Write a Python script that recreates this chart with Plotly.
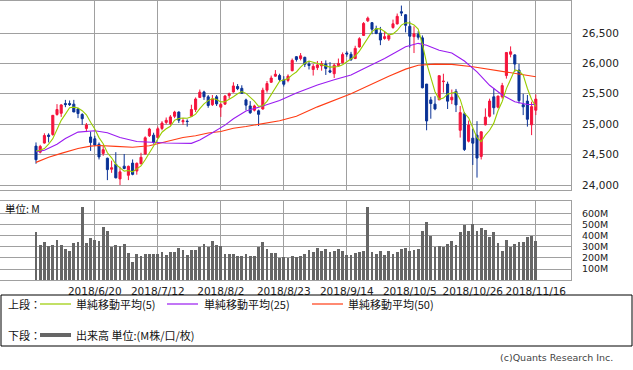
import plotly.graph_objects as go
import pandas as pd

# ---------------- data ----------------
tick_days = [14, 29, 44, 59, 74, 89, 104, 119]
tick_labels = ["2018/6/20", "2018/7/12", "2018/8/2", "2018/8/23",
               "2018/9/14", "2018/10/5", "2018/10/26", "2018/11/16"]

opens = [24640, 24540, 24690, 24820, 24830, 25160, 25180, 25340, 25340, 25330,
         25250, 25160, 24930, 24790, 24760, 24670, 24520, 24440, 24260, 24340,
         24100, 24310, 24160, 24360, 24230, 24350, 24510, 24810, 24820, 24780,
         24930, 25030, 25010, 25130, 25200, 25040, 25050, 25130, 25240, 25440,
         25530, 25450, 25320, 25450, 25280, 25330, 25470, 25530, 25620, 25590,
         25400, 25300, 25230, 25220, 25250, 25560, 25690, 25790, 25800, 25730,
         25720, 25880, 26110, 26080, 26100, 25990, 25900, 25930, 25960, 25990,
         25880, 25830, 25960, 26010, 26170, 26150, 26080, 26270, 26460, 26700,
         26670, 26570, 26500, 26410, 26400, 26590, 26650, 26850, 26800, 26610,
         26440, 26480, 26420, 25660, 25400, 25330, 25400, 25700, 25660, 25400,
         25540, 24900, 25170, 24720, 24770, 24820, 24470, 24990, 25130, 25450,
         25280, 25450, 25800, 26150, 26140, 25890, 25320, 25380, 24990, 25230]
highs = [24700, 24660, 24850, 24850, 25150, 25330, 25330, 25400, 25390, 25400,
         25270, 25180, 25020, 24880, 24810, 24700, 24650, 24450, 24400, 24540,
         24300, 24510, 24320, 24420, 24370, 24530, 24800, 24940, 24860, 24960,
         25050, 25110, 25150, 25220, 25210, 25100, 25080, 25320, 25440, 25570,
         25550, 25480, 25480, 25480, 25350, 25480, 25520, 25690, 25660, 25640,
         25420, 25380, 25320, 25240, 25600, 25710, 25800, 25890, 25830, 25790,
         25820, 26080, 26120, 26170, 26110, 26040, 25990, 26040, 26040, 26050,
         26020, 26000, 26080, 26180, 26200, 26190, 26290, 26430, 26680, 26770,
         26680, 26620, 26600, 26530, 26470, 26720, 26820, 26951, 26810, 26690,
         26610, 26530, 26460, 25660, 25450, 25460, 25800, 25830, 25700, 25570,
         25580, 25300, 25200, 25060, 24920, 25050, 24880, 25260, 25420, 25590,
         25470, 25680, 26180, 26280, 26150, 25990, 25500, 25480, 25370, 25490]
lows = [24350, 24520, 24680, 24700, 24810, 25140, 25120, 25280, 25300, 25200,
        25100, 24990, 24870, 24560, 24640, 24420, 24480, 24080, 24200, 24110,
        24000, 24260, 24080, 24160, 24170, 24340, 24500, 24790, 24680, 24770,
        24900, 25000, 24980, 25100, 25020, 24990, 24960, 25120, 25200, 25430,
        25400, 25270, 25300, 25300, 25120, 25320, 25420, 25520, 25560, 25500,
        25230, 25170, 25210, 24970, 25240, 25520, 25680, 25780, 25710, 25620,
        25690, 25870, 26030, 26050, 25940, 25900, 25800, 25890, 25880, 25810,
        25840, 25760, 25950, 26000, 26110, 26040, 26070, 26260, 26450, 26680,
        26480, 26480, 26300, 26390, 26370, 26570, 26640, 26780, 26510, 26260,
        26170, 26390, 25590, 24900, 25090, 25230, 25400, 25520, 25250, 25330,
        25200, 24780, 24560, 24700, 24330, 24122, 24420, 24980, 25110, 25160,
        25260, 25420, 25750, 26100, 25860, 25340, 25150, 24960, 24820, 25150]
closes = [24416, 24635, 24814, 24800, 25146, 25241, 25317, 25322, 25321, 25201,
          25175, 25090, 24987, 24700, 24658, 24462, 24581, 24253, 24283, 24118,
          24216, 24271, 24307, 24175, 24357, 24456, 24777, 24920, 24700, 24925,
          25019, 25064, 25120, 25199, 25065, 25058, 25044, 25242, 25414, 25527,
          25451, 25307, 25415, 25334, 25326, 25463, 25502, 25629, 25584, 25509,
          25313, 25188, 25300, 25162, 25559, 25669, 25759, 25822, 25734, 25657,
          25790, 26050, 26064, 26125, 25987, 25965, 25952, 25975, 25996, 25917,
          25857, 25971, 25999, 26146, 26155, 26062, 26247, 26406, 26657, 26744,
          26562, 26492, 26385, 26440, 26458, 26651, 26774, 26828, 26627, 26447,
          26487, 26431, 25599, 25053, 25340, 25251, 25798, 25707, 25379, 25444,
          25317, 25191, 24583, 24985, 24688, 24443, 24875, 25116, 25381, 25271,
          25462, 25635, 26180, 26191, 25989, 25387, 25286, 25081, 25289, 25413]
volumes_m = [436, 318, 345, 309, 318, 364, 318, 282, 264, 336,
             345, 664, 336, 382, 364, 355, 482, 445, 300, 318,
             309, 327, 245, 164, 236, 218, 236, 236, 236, 236,
             255, 227, 255, 255, 291, 273, 227, 273, 273, 300,
             327, 300, 355, 318, 309, 236, 236, 236, 218, 218,
             236, 218, 218, 300, 345, 282, 245, 245, 200, 209,
             200, 218, 209, 218, 236, 273, 255, 291, 264, 282,
             255, 264, 282, 264, 227, 227, 245, 255, 264, 664,
             255, 236, 264, 227, 264, 236, 255, 282, 291, 264,
             273, 282, 445, 527, 400, 300, 309, 300, 327, 355,
             318, 436, 500, 445, 509, 445, 473, 455, 391, 436,
             336, 264, 364, 300, 327, 345, 345, 391, 400, 355]

ma5_head = [24560, 24570, 24600, 24670]   # first values of the 5-day average as drawn
ma25_days = [0, 2, 5, 7, 10, 14, 17, 20, 24, 28, 31, 37, 39, 42, 44, 45, 47, 50, 54,
             58, 62, 67, 71, 75, 78, 83, 88, 91, 93, 96, 99, 102, 105, 108, 111,
             114, 117, 119]
ma25_vals = [24547, 24570, 24670, 24765, 24870, 24893, 24860, 24780, 24715, 24700,
             24690, 24685, 24740, 24860, 24935, 24985, 25090, 25217, 25300, 25390,
             25515, 25645, 25730, 25810, 25910, 26080, 26275, 26330, 26300, 26215,
             26170, 26040, 25860, 25640, 25480, 25370, 25325, 25323]
ma50_days = [0, 3, 6, 10, 13, 15, 19, 23, 27, 31, 35, 38, 41, 44, 47, 50, 54, 58, 62,
             67, 75, 79, 84, 88, 91, 95, 99, 104, 109, 113, 117, 119]
ma50_vals = [24372, 24455, 24520, 24600, 24640, 24650, 24635, 24620, 24645, 24715,
             24780, 24811, 24855, 24880, 24932, 24962, 25010, 25058, 25130, 25285,
             25500, 25630, 25790, 25906, 25970, 25988, 25984, 25946, 25891, 25847,
             25815, 25781]

# ---------------- derived ----------------
days = list(range(len(closes)))
ma5 = pd.Series(closes).rolling(5).mean().tolist()
ma5[:4] = ma5_head

RED = "#f5143c"
BLUE = "#0a3296"
C_MA5 = "#99cc00"
C_MA25 = "#9a1cf0"
C_MA50 = "#ff3c14"
GRID = "#a0a0a0"

W, H = 633, 370
PL, PR, PT, PB = 0, 571, 1, 280
PW, PH = PR - PL, PB - PT


def xp(px):
    return (px - PL) / PW


def yp(py):
    return (PB - py) / PH


fig = go.Figure()
fig.add_trace(go.Candlestick(
    x=days, open=opens, high=highs, low=lows, close=closes,
    increasing=dict(line=dict(color=RED, width=1), fillcolor=RED),
    decreasing=dict(line=dict(color=BLUE, width=1), fillcolor=BLUE),
    whiskerwidth=0, xaxis="x", yaxis="y", showlegend=False))
fig.add_trace(go.Scatter(x=ma50_days, y=ma50_vals, mode="lines",
                         line=dict(color=C_MA50, width=1.1), xaxis="x", yaxis="y"))
fig.add_trace(go.Scatter(x=ma25_days, y=ma25_vals, mode="lines",
                         line=dict(color=C_MA25, width=1.1), xaxis="x", yaxis="y"))
fig.add_trace(go.Scatter(x=days, y=ma5, mode="lines",
                         line=dict(color=C_MA5, width=1.1), xaxis="x", yaxis="y"))
fig.add_trace(go.Bar(x=days, y=volumes_m, marker=dict(color="#666666", line=dict(width=0)),
                     width=0.65, xaxis="x2", yaxis="y2"))

xr = [-36 / 4.2, (571 - 36) / 4.2]
axis_common = dict(showline=True, mirror=True, linecolor=GRID, linewidth=1,
                   showgrid=True, gridcolor=GRID, gridwidth=1, zeroline=False, ticks="",
                   automargin=False)
p_top = 26500 + (33 - PT) * 500 / 30.4
p_bot = 26500 + (33 - 190) * 500 / 30.4

fig.update_layout(
    width=W, height=H, margin=dict(l=PL, r=W - PR, t=PT, b=H - PB, autoexpand=False),
    paper_bgcolor="white", plot_bgcolor="white", showlegend=False,
    bargap=0,
    xaxis=dict(axis_common, range=xr, tickvals=tick_days, showticklabels=False,
               rangeslider=dict(visible=False), anchor="y"),
    xaxis2=dict(axis_common, range=xr, tickvals=tick_days, ticktext=tick_labels,
                matches="x", anchor="y2", tickangle=0, ticklabelstandoff=1,
                tickfont=dict(family="DejaVu Sans", size=10.5, color="#222222")),
    yaxis=dict(axis_common, domain=[yp(190), 1], range=[p_bot, p_top], side="right",
               tickvals=[24000, 24500, 25000, 25500, 26000, 26500], tickformat=",",
               ticklabelstandoff=8,
               tickfont=dict(family="DejaVu Sans", size=10.5, color="#222222")),
    yaxis2=dict(axis_common, domain=[0, yp(201)], range=[0, 718], side="right",
                tickvals=[100, 200, 300, 400, 500, 600],
                ticktext=["100M", "200M", "300M", "400M", "500M", "600M"],
                ticklabelstandoff=8,
                tickfont=dict(family="DejaVu Sans", size=9.5, color="#222222")),
)

shapes = [
    dict(type="rect", xref="paper", yref="paper", x0=xp(1), x1=xp(632), y0=yp(295), y1=yp(346),
         line=dict(color="black", width=1), fillcolor="rgba(0,0,0,0)"),
    dict(type="line", xref="paper", yref="paper", x0=xp(40), x1=xp(71), y0=yp(304), y1=yp(304),
         line=dict(color=C_MA5, width=1.2)),
    dict(type="line", xref="paper", yref="paper", x0=xp(167), x1=xp(198), y0=yp(304), y1=yp(304),
         line=dict(color=C_MA25, width=1.2)),
    dict(type="line", xref="paper", yref="paper", x0=xp(312), x1=xp(343), y0=yp(304), y1=yp(304),
         line=dict(color=C_MA50, width=1.2)),
    dict(type="line", xref="paper", yref="paper", x0=xp(40), x1=xp(71), y0=yp(335), y1=yp(335),
         line=dict(color="#666666", width=4)),
]
fig.update_layout(shapes=shapes)

JP = "Noto Sans CJK JP"


def note(text, x, y, anchor="left", size=11, color="#111111", family=JP):
    fig.add_annotation(text=text, xref="paper", yref="paper", x=xp(x), y=yp(y),
                       xanchor=anchor, yanchor="middle", showarrow=False,
                       font=dict(family=family, size=size, color=color), borderpad=0)


note("上段：", 7, 304)
note("単純移動平均(5)", 75, 304)
note("単純移動平均(25)", 203, 304)
note("単純移動平均(50)", 347, 304)
note("下段：", 7, 335)
note("出来高 単位:(M株/口/枚)", 75, 335)
note("単位: M", 4, 209, size=10.5)
note("(c)Quants Research Inc.", 614, 357, anchor="right", size=9.5, color="#444444",
     family="DejaVu Sans")

fig.write_html("out.html", config={"displayModeBar": False},
               post_script="document.body.style.margin='0';document.body.style.overflow='hidden';")
